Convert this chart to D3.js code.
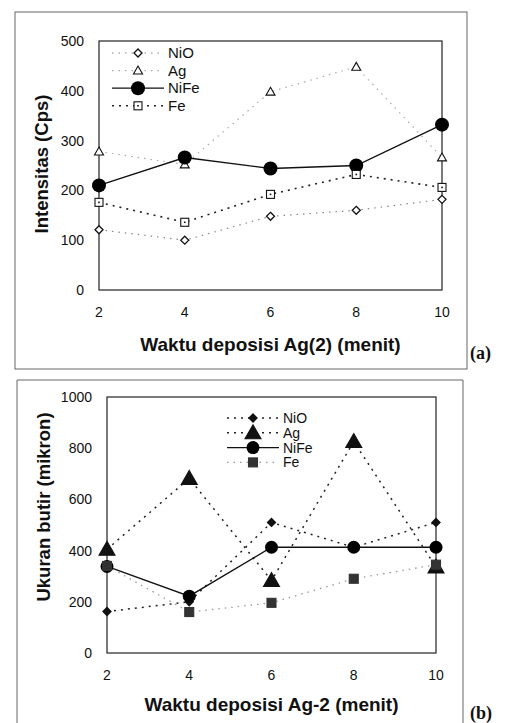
<!DOCTYPE html>
<html>
<head>
<meta charset="utf-8">
<script src="https://cdn.jsdelivr.net/npm/d3@7"></script>
<style>
  body { margin: 0; background: #fff; }
  svg { display: block; font-family: "Liberation Sans", Arial, sans-serif; }
</style>
</head>
<body>
<div id="chart"></div>
<script>
// waktu deposisi (menit)
var waktu = [2, 4, 6, 8, 10];
var seriesNames = ["NiO", "Ag", "NiFe", "Fe"];

// (a) intensitas (Cps)
var intNiO  = [121, 100, 148, 160, 182];
var intAg   = [278, 252, 398, 448, 266];
var intNiFe = [210, 266, 244, 250, 332];
var intFe   = [176, 136, 192, 232, 206];
var ticksA  = [0, 100, 200, 300, 400, 500];

// (b) ukuran butir (mikron)
var butNiO  = [162, 200, 510, 413, 510];
var butAg   = [405, 682, 283, 826, 336];
var butNiFe = [338, 222, 413, 413, 413];
var butFe   = [340, 160, 196, 290, 345];
var ticksB  = [0, 200, 400, 600, 800, 1000];

var W = 506, H = 723;
var svg = d3.select("#chart").append("svg")
    .attr("width", W)
    .attr("height", H);

// outer frames
svg.append("rect").attr("x", 15).attr("y", 12).attr("width", 452).attr("height", 357)
    .attr("fill", "none").attr("stroke", "#666").attr("stroke-width", 1);
svg.append("path").attr("d", "M17,730 V380 H463 V730")
    .attr("fill", "none").attr("stroke", "#666").attr("stroke-width", 1);

// marker drawing
function marker(g, type, cx, cy, filled) {
    var fill = filled ? "#111" : "#fff";
    if (type == "diamond") {
        g.append("path")
            .attr("d", "M" + cx + "," + (cy - 4) + " L" + (cx + 4) + "," + cy + " L" + cx + "," + (cy + 4) + " L" + (cx - 4) + "," + cy + "Z")
            .attr("fill", fill).attr("stroke", "#111").attr("stroke-width", 1.3);
    } else if (type == "triangle") {
        var s = filled ? 8 : 4.5;
        g.append("path")
            .attr("d", "M" + cx + "," + (cy - s) + " L" + (cx + s) + "," + (cy + s * 0.75) + " L" + (cx - s) + "," + (cy + s * 0.75) + "Z")
            .attr("fill", fill).attr("stroke", "#111").attr("stroke-width", 1.1);
    } else if (type == "circle") {
        g.append("circle").attr("cx", cx).attr("cy", cy).attr("r", filled)
            .attr("fill", "#000");
    } else if (type == "square") {
        var q = filled ? 4.5 : 4;
        g.append("rect").attr("x", cx - q).attr("y", cy - q).attr("width", q * 2).attr("height", q * 2)
            .attr("fill", filled ? "#333" : "#fff").attr("stroke", filled ? "#333" : "#111").attr("stroke-width", 1.1);
        if (!filled) {
            g.append("rect").attr("x", cx - 0.8).attr("y", cy - 0.8).attr("width", 1.6).attr("height", 1.6).attr("fill", "#111");
        }
    }
}

function drawPanel(cfg) {
    var g = svg.append("g");
    var x = d3.scaleLinear().domain([2, 10]).range([cfg.left, cfg.right]);
    var y = d3.scaleLinear().domain([0, cfg.max]).range([cfg.bottom, cfg.top]);

    // plot box
    g.append("rect")
        .attr("x", cfg.left).attr("y", cfg.top)
        .attr("width", cfg.right - cfg.left).attr("height", cfg.bottom - cfg.top)
        .attr("fill", "none").attr("stroke", "#222").attr("stroke-width", 1.2);

    // y tick labels
    g.selectAll(".ytick").data(cfg.ticks).enter().append("text")
        .attr("x", cfg.left - 15)
        .attr("y", function (d) { return y(d) + 5; })
        .attr("text-anchor", "end")
        .attr("font-size", 14)
        .attr("fill", "#111")
        .text(function (d) { return d; });

    // x tick labels
    g.selectAll(".xtick").data(waktu).enter().append("text")
        .attr("x", function (d) { return x(d); })
        .attr("y", cfg.bottom + 27)
        .attr("text-anchor", "middle")
        .attr("font-size", 14)
        .attr("fill", "#111")
        .text(function (d) { return d; });

    // axis titles
    g.append("text")
        .attr("x", (cfg.left + cfg.right) / 2)
        .attr("y", cfg.xTitleY)
        .attr("text-anchor", "middle")
        .attr("font-size", 19)
        .attr("font-weight", "bold")
        .attr("fill", "#111")
        .text(cfg.xTitle);
    g.append("text")
        .attr("transform", "translate(" + cfg.yTitleX + "," + cfg.yTitleY + ") rotate(-90)")
        .attr("text-anchor", "middle")
        .attr("font-size", 18.5)
        .attr("font-weight", "bold")
        .attr("fill", "#111")
        .text(cfg.yTitle);

    // panel label
    g.append("text")
        .attr("x", 470).attr("y", cfg.xTitleY + 8)
        .attr("font-family", "'Liberation Serif', 'Times New Roman', serif")
        .attr("font-size", 18)
        .attr("font-weight", "bold")
        .attr("fill", "#111")
        .text(cfg.label);

    var line = d3.line()
        .x(function (d, i) { return x(waktu[i]); })
        .y(function (d) { return y(d); });

    cfg.series.forEach(function (s) {
        g.append("path")
            .datum(s.values)
            .attr("d", line)
            .attr("fill", "none")
            .attr("stroke", s.color)
            .attr("stroke-width", s.width)
            .attr("stroke-dasharray", s.dash);
    });
    cfg.series.forEach(function (s) {
        s.values.forEach(function (v, i) {
            marker(g, s.marker, x(waktu[i]), y(v), s.filled);
        });
    });

    // legend
    cfg.series.forEach(function (s, i) {
        var ly = cfg.legY + i * cfg.legStep;
        g.append("line")
            .attr("x1", cfg.legX).attr("x2", cfg.legX + 52)
            .attr("y1", ly).attr("y2", ly)
            .attr("stroke", s.color)
            .attr("stroke-width", s.width)
            .attr("stroke-dasharray", s.dash);
        marker(g, s.marker, cfg.legX + 26, ly, s.filled);
        g.append("text")
            .attr("x", cfg.legX + 56)
            .attr("y", ly + 5)
            .attr("font-size", cfg.legFont)
            .attr("fill", "#111")
            .text(seriesNames[i]);
    });
}

drawPanel({
    left: 99, right: 442, top: 41, bottom: 290, max: 500, ticks: ticksA,
    xTitle: "Waktu deposisi Ag(2) (menit)", xTitleY: 351,
    yTitle: "Intensitas (Cps)", yTitleX: 48, yTitleY: 164,
    label: "(a)",
    legX: 112, legY: 53, legStep: 17.6, legFont: 15,
    series: [
        { values: intNiO,  color: "#888", width: 1.2, dash: "1.5,5", marker: "diamond",  filled: false },
        { values: intAg,   color: "#aaa", width: 1.2, dash: "1.5,5", marker: "triangle", filled: false },
        { values: intNiFe, color: "#111", width: 1.3, dash: null,     marker: "circle",   filled: 7 },
        { values: intFe,   color: "#222", width: 1.6, dash: "2,5",   marker: "square",   filled: false }
    ]
});

drawPanel({
    left: 107, right: 436, top: 397, bottom: 653, max: 1000, ticks: ticksB,
    xTitle: "Waktu deposisi Ag-2 (menit)", xTitleY: 711,
    yTitle: "Ukuran butir (mikron)", yTitleX: 50, yTitleY: 507,
    label: "(b)",
    legX: 227, legY: 418, legStep: 14.8, legFont: 14,
    series: [
        { values: butNiO,  color: "#222", width: 1.5, dash: "2,5", marker: "diamond",  filled: true },
        { values: butAg,   color: "#222", width: 1.5, dash: "2,5", marker: "triangle", filled: true },
        { values: butNiFe, color: "#111", width: 1.3, dash: null,  marker: "circle",   filled: 6.5 },
        { values: butFe,   color: "#999", width: 1.3, dash: "1.5,5", marker: "square", filled: true }
    ]
});
</script>
</body>
</html>
